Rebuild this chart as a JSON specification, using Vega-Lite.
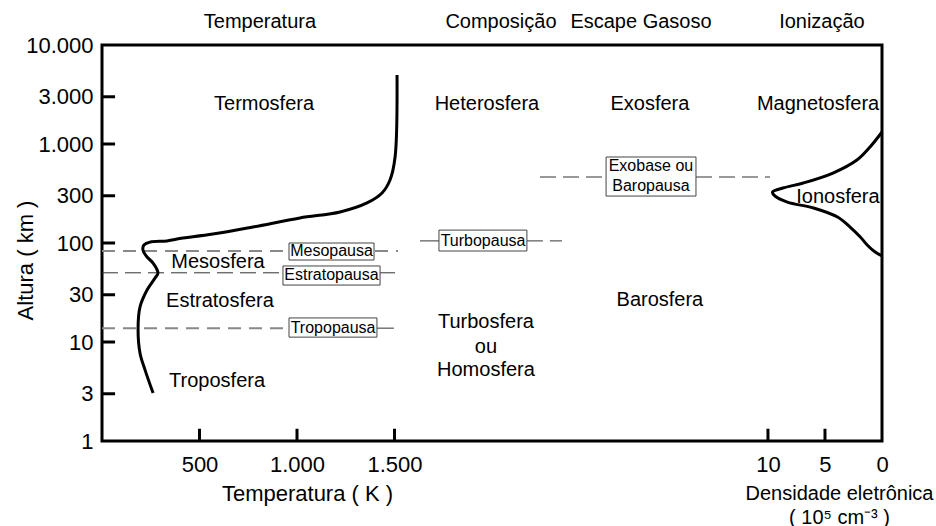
{
  "$schema": "https://vega.github.io/schema/vega-lite/v6.json",
  "width": 780,
  "height": 396,
  "autosize": {"type": "none"},
  "padding": {"left": 102, "top": 45, "right": 54, "bottom": 85},
  "background": "white",
  "config": {
    "font": "Liberation Sans",
    "view": {"stroke": "black", "strokeWidth": 3},
    "axis": {
      "domain": false,
      "grid": false,
      "ticks": false,
      "tickSize": 0,
      "labelFont": "Liberation Sans",
      "labelFontSize": 22,
      "labelColor": "black",
      "labelFlush": false,
      "labelOverlap": false,
      "labelBound": false,
      "titleFont": "Liberation Sans",
      "titleFontSize": 22,
      "titleFontWeight": "normal",
      "titleColor": "black"
    },
    "text": {"font": "Liberation Sans", "color": "black"}
  },
  "datasets": {
    "temp": [
      {"i": 0, "T": 262, "alt": 3.05},
      {"i": 1, "T": 221, "alt": 5.2},
      {"i": 2, "T": 195, "alt": 7.7},
      {"i": 3, "T": 185, "alt": 13.8},
      {"i": 4, "T": 195, "alt": 22.6},
      {"i": 5, "T": 231, "alt": 33.5},
      {"i": 6, "T": 272, "alt": 44.3},
      {"i": 7, "T": 287, "alt": 49.8},
      {"i": 8, "T": 262, "alt": 62.8},
      {"i": 9, "T": 231, "alt": 72.2},
      {"i": 10, "T": 210, "alt": 85},
      {"i": 11, "T": 215, "alt": 95.5},
      {"i": 12, "T": 246, "alt": 102},
      {"i": 13, "T": 333, "alt": 105},
      {"i": 14, "T": 385, "alt": 110},
      {"i": 15, "T": 569, "alt": 123},
      {"i": 16, "T": 774, "alt": 145},
      {"i": 17, "T": 1015, "alt": 179},
      {"i": 18, "T": 1221, "alt": 206},
      {"i": 19, "T": 1359, "alt": 254},
      {"i": 20, "T": 1436, "alt": 320},
      {"i": 21, "T": 1477, "alt": 433},
      {"i": 22, "T": 1503, "alt": 739},
      {"i": 23, "T": 1513, "alt": 4980}
    ],
    "iono": [
      {"i": 0, "dens": 0, "alt": 1322},
      {"i": 1, "dens": 1.05, "alt": 933},
      {"i": 2, "dens": 2.2, "alt": 689},
      {"i": 3, "dens": 4.3, "alt": 509},
      {"i": 4, "dens": 6.9, "alt": 404},
      {"i": 5, "dens": 8.7, "alt": 359},
      {"i": 6, "dens": 9.6, "alt": 327},
      {"i": 7, "dens": 9.4, "alt": 299},
      {"i": 8, "dens": 8.3, "alt": 259},
      {"i": 9, "dens": 6.0, "alt": 226},
      {"i": 10, "dens": 3.9, "alt": 183},
      {"i": 11, "dens": 2.8, "alt": 145},
      {"i": 12, "dens": 1.9, "alt": 115},
      {"i": 13, "dens": 1.3, "alt": 95.5},
      {"i": 14, "dens": 0.6, "alt": 81},
      {"i": 15, "dens": 0, "alt": 74}
    ],
    "ticksT": [
      {"T": 500, "alt": 1, "alt2": 1.33},
      {"T": 1000, "alt": 1, "alt2": 1.33},
      {"T": 1500, "alt": 1, "alt2": 1.33}
    ],
    "ticksAlt": [
      {"alt": 3, "T": 0, "T2": 67},
      {"alt": 10, "T": 0, "T2": 67},
      {"alt": 30, "T": 0, "T2": 67},
      {"alt": 100, "T": 0, "T2": 67},
      {"alt": 300, "T": 0, "T2": 67},
      {"alt": 1000, "T": 0, "T2": 67},
      {"alt": 3000, "T": 0, "T2": 67}
    ],
    "ticksDens": [
      {"dens": 5, "alt": 1, "alt2": 1.33},
      {"dens": 10, "alt": 1, "alt2": 1.33}
    ],
    "dashGray": [
      {"T": 0, "T2": 1518, "alt": 83},
      {"T": 0, "T2": 959, "alt": 13.8}
    ],
    "dashDark": [
      {"T": 0, "T2": 928, "alt": 50},
      {"T": 2179, "T2": 2359, "alt": 105},
      {"T": 2246, "T2": 2585, "alt": 464},
      {"T": 3046, "T2": 3426, "alt": 464}
    ],
    "solid": [
      {"T": 1426, "T2": 1503, "alt": 50},
      {"T": 1410, "T2": 1497, "alt": 13.8},
      {"T": 1631, "T2": 1728, "alt": 105}
    ],
    "boxes": [
      {"name": "Mesopausa", "T": 959, "T2": 1395, "alt": 67.3, "alt2": 100},
      {"name": "Estratopausa", "T": 928, "T2": 1426, "alt": 37.6, "alt2": 58.6},
      {"name": "Tropopausa", "T": 959, "T2": 1410, "alt": 11.2, "alt2": 17.5},
      {"name": "Turbopausa", "T": 1728, "T2": 2179, "alt": 83, "alt2": 135},
      {"name": "Exobase", "T": 2585, "T2": 3046, "alt": 298, "alt2": 739}
    ],
    "boxLabels": [
      {"label": "Mesopausa", "T": 1177, "alt": 83},
      {"label": "Estratopausa", "T": 1177, "alt": 47.5},
      {"label": "Tropopausa", "T": 1185, "alt": 14.0},
      {"label": "Turbopausa", "T": 1954, "alt": 105},
      {"label": "Exobase ou", "T": 2815, "alt": 600},
      {"label": "Baropausa", "T": 2815, "alt": 377}
    ],
    "labels": [
      {"label": "Temperatura", "T": 810, "alt": 17060},
      {"label": "Composição", "T": 2046, "alt": 17060},
      {"label": "Escape Gasoso", "T": 2764, "alt": 17060},
      {"label": "Ionização", "T": 3692, "alt": 17060},
      {"label": "Termosfera", "T": 831, "alt": 2536},
      {"label": "Heterosfera", "T": 1974, "alt": 2536},
      {"label": "Exosfera", "T": 2810, "alt": 2536},
      {"label": "Magnetosfera", "T": 3672, "alt": 2560},
      {"label": "Ionosfera", "T": 3774, "alt": 292},
      {"label": "Mesosfera", "T": 595, "alt": 64},
      {"label": "Estratosfera", "T": 605, "alt": 26},
      {"label": "Troposfera", "T": 590, "alt": 4.04},
      {"label": "Turbosfera", "T": 1969, "alt": 15.9},
      {"label": "ou", "T": 1969, "alt": 8.9},
      {"label": "Homosfera", "T": 1969, "alt": 5.2},
      {"label": "Barosfera", "T": 2861, "alt": 26.6}
    ]
  },
  "layer": [
    {
      "encoding": {
        "x": {
          "field": "T",
          "type": "quantitative",
          "scale": {"domain": [0, 4000], "nice": false, "zero": false},
          "axis": {
            "orient": "bottom",
            "values": [500, 1000, 1500],
            "labelExpr": "replace(format(datum.value, ','), ',', '.')",
            "labelPadding": 13,
            "title": "Temperatura ( K )",
            "titleX": 205,
            "titleY": 52,
            "titleAlign": "center",
            "titleBaseline": "middle"
          }
        },
        "y": {
          "field": "alt",
          "type": "quantitative",
          "scale": {"type": "log", "domain": [1, 10000], "nice": false},
          "axis": {
            "values": [1, 3, 10, 30, 100, 300, 1000, 3000, 10000],
            "labelExpr": "replace(format(datum.value, ','), ',', '.')",
            "labelPadding": 9,
            "title": "Altura ( km )",
            "titleX": -77,
            "titleY": 215,
            "titleAlign": "center",
            "titleBaseline": "middle",
            "titleAngle": -90
          }
        }
      },
      "layer": [
        {
          "data": {"name": "dashGray"},
          "mark": {"type": "rule", "color": "#888888", "strokeWidth": 2, "strokeDash": [13, 8]},
          "encoding": {"x2": {"field": "T2"}}
        },
        {
          "data": {"name": "dashDark"},
          "mark": {"type": "rule", "color": "#333333", "strokeWidth": 1, "strokeDash": [16, 7]},
          "encoding": {"x2": {"field": "T2"}}
        },
        {
          "data": {"name": "solid"},
          "mark": {"type": "rule", "color": "#333333", "strokeWidth": 1},
          "encoding": {"x2": {"field": "T2"}}
        },
        {
          "data": {"name": "ticksT"},
          "mark": {"type": "rule", "color": "black", "strokeWidth": 3},
          "encoding": {"y2": {"field": "alt2"}}
        },
        {
          "data": {"name": "ticksAlt"},
          "mark": {"type": "rule", "color": "black", "strokeWidth": 3},
          "encoding": {"x2": {"field": "T2"}}
        },
        {
          "data": {"name": "temp"},
          "mark": {"type": "line", "color": "black", "strokeWidth": 3, "interpolate": "catmull-rom"},
          "encoding": {"order": {"field": "i", "type": "quantitative"}}
        },
        {
          "data": {"name": "boxes"},
          "mark": {"type": "rect", "fill": "white", "stroke": "#444444", "strokeWidth": 1},
          "encoding": {"x2": {"field": "T2"}, "y2": {"field": "alt2"}}
        },
        {
          "data": {"name": "boxLabels"},
          "mark": {"type": "text", "fontSize": 16, "align": "center", "baseline": "middle"},
          "encoding": {"text": {"field": "label", "type": "nominal"}}
        },
        {
          "data": {"name": "labels"},
          "mark": {"type": "text", "fontSize": 20, "align": "center", "baseline": "middle"},
          "encoding": {"text": {"field": "label", "type": "nominal"}}
        }
      ]
    },
    {
      "encoding": {
        "x": {
          "field": "dens",
          "type": "quantitative",
          "scale": {"domain": [0, 68.4], "reverse": true, "nice": false, "zero": false},
          "axis": {
            "orient": "bottom",
            "values": [0, 5, 10],
            "labelPadding": 13,
            "title": ["Densidade eletrônica", "( 10⁵  cm⁻³ )"],
            "titleFontSize": 20,
            "titleX": 737,
            "titleY": 42,
            "titleAlign": "center",
            "titleBaseline": "top",
            "titleLineHeight": 24
          }
        },
        "y": {"field": "alt", "type": "quantitative"}
      },
      "layer": [
        {
          "data": {"name": "iono"},
          "mark": {"type": "line", "color": "black", "strokeWidth": 3, "interpolate": "catmull-rom"},
          "encoding": {"order": {"field": "i", "type": "quantitative"}}
        },
        {
          "data": {"name": "ticksDens"},
          "mark": {"type": "rule", "color": "black", "strokeWidth": 3},
          "encoding": {"y2": {"field": "alt2"}}
        }
      ]
    }
  ],
  "resolve": {"scale": {"x": "independent"}, "axis": {"x": "independent"}}
}
